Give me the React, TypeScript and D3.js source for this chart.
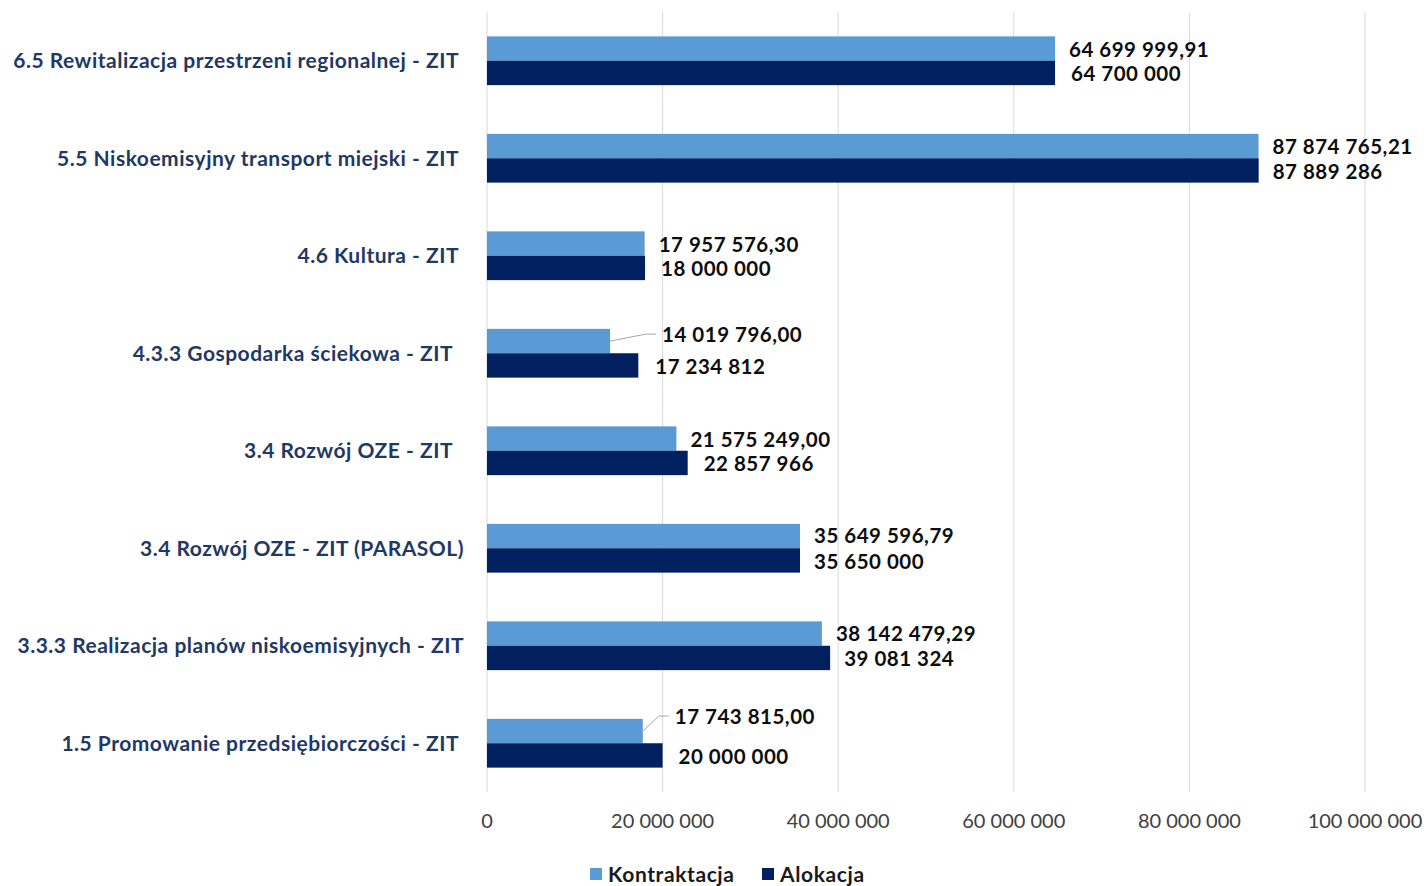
import React from "react";
import * as d3 from "d3";

const categories = [
  "6.5 Rewitalizacja przestrzeni regionalnej - ZIT",
  "5.5 Niskoemisyjny transport miejski - ZIT",
  "4.6 Kultura - ZIT",
  "4.3.3 Gospodarka ściekowa - ZIT",
  "3.4 Rozwój OZE - ZIT",
  "3.4 Rozwój OZE - ZIT (PARASOL)",
  "3.3.3 Realizacja planów niskoemisyjnych - ZIT",
  "1.5 Promowanie przedsiębiorczości - ZIT",
];
const kontraktacja = [64699999.91, 87874765.21, 17957576.3, 14019796.0, 21575249.0, 35649596.79, 38142479.29, 17743815.0];
const alokacja = [64700000, 87889286, 18000000, 17234812, 22857966, 35650000, 39081324, 20000000];
const kontraktacjaLabels = ["64 699 999,91", "87 874 765,21", "17 957 576,30", "14 019 796,00", "21 575 249,00", "35 649 596,79", "38 142 479,29", "17 743 815,00"];
const alokacjaLabels = ["64 700 000", "87 889 286", "18 000 000", "17 234 812", "22 857 966", "35 650 000", "39 081 324", "20 000 000"];
const ticks = [0, 20000000, 40000000, 60000000, 80000000, 100000000];
const tickLabels = ["0", "20 000 000", "40 000 000", "60 000 000", "80 000 000", "100 000 000"];
const seriesNames = ["Kontraktacja", "Alokacja"];
const colors = ["#5B9BD5", "#002060"];

// layout nudges (label adjustments)
const catDx = [0, 0, 0, -6, -6, 5, 5, 0];
const kLabelNudge: [number, number][] = [[0, 1], [0, 1], [0, 1], [38, -6], [0, 1], [0, 0], [0, 0], [18, -14]];
const aLabelNudge: [number, number][] = [[2, 1], [0, 1], [2, 1], [3, 1], [2, 1], [0, 1], [0, 1], [2, 1]];

export default function App() {
  const W = 1427, H = 886;
  const left = 487, right = 1365, top = 12, bottom = 792;
  const x = d3.scaleLinear().domain([0, 100000000]).range([left, right]);
  const y = d3.scaleBand<number>().domain(d3.range(categories.length)).range([top, bottom]).paddingInner(0.5).paddingOuter(0.25);
  const bw = y.bandwidth() / 2;
  const font = "Lato, 'Open Sans', sans-serif";
  const lblStyle = { fontFamily: font, fontWeight: 700, fontSize: 20.5, letterSpacing: 0.5 } as const;
  return (
    <svg width={W} height={H} style={{ position: "absolute", left: 0, top: 0, background: "#fff" }}>
      {ticks.map((t, i) => (
        <line key={"g" + i} x1={x(t)} x2={x(t)} y1={top} y2={bottom} stroke="#D9D9D9" strokeWidth={1} />
      ))}
      {categories.map((c, i) => {
        const y0 = y(i)!;
        const kx = x(kontraktacja[i]);
        const ax = x(alokacja[i]);
        const kn = kLabelNudge[i];
        const an = aLabelNudge[i];
        const ky = y0 + bw / 2;
        const ay = y0 + bw * 1.5;
        const klx = kx + 14 + kn[0];
        const kly = ky + kn[1];
        const leader = kn[0] !== 0;
        return (
          <g key={i}>
            <text x={459 + catDx[i]} y={y0 + bw} dy="0.35em" textAnchor="end" fontFamily={font} fontWeight={700} fontSize={21} letterSpacing={0.5} fill="#1F3864">{c}</text>
            <rect x={left} y={y0} width={kx - left} height={bw} fill={colors[0]} />
            <rect x={left} y={y0 + bw} width={ax - left} height={bw} fill={colors[1]} />
            {leader && (
              <polyline points={`${kx},${ky} ${klx - 16},${kly - 1} ${klx - 6},${kly - 1}`} fill="none" stroke="#A6A6A6" strokeWidth={1} />
            )}
            <text x={klx} y={kly} dy="0.35em" {...lblStyle} fill="#0D0D0D">{kontraktacjaLabels[i]}</text>
            <text x={ax + 14 + an[0]} y={ay + an[1]} dy="0.35em" {...lblStyle} fill="#0D0D0D">{alokacjaLabels[i]}</text>
          </g>
        );
      })}
      {ticks.map((t, i) => (
        <text key={"t" + i} x={x(t)} y={821} dy="0.35em" textAnchor="middle" fontFamily={font} fontSize={20} fill="#404040">{tickLabels[i]}</text>
      ))}
      {seriesNames.map((s, i) => {
        const lx = [590, 762][i];
        return (
          <g key={s}>
            <rect x={lx} y={868} width={12} height={12} fill={colors[i]} />
            <text x={lx + 18} y={875} dy="0.35em" fontFamily={font} fontWeight={700} fontSize={21} letterSpacing={0.6} fill="#1A1A1A">{s}</text>
          </g>
        );
      })}
    </svg>
  );
}
